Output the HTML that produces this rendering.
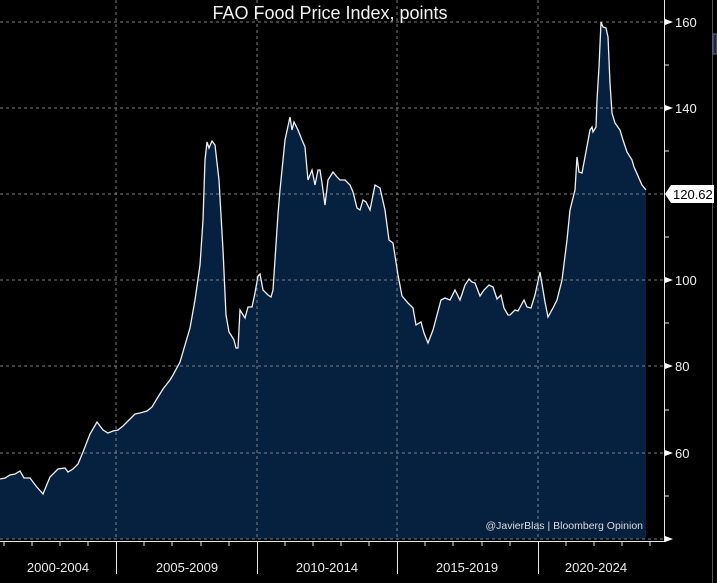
<!DOCTYPE html>
<html><head><meta charset="utf-8"><style>
html,body{margin:0;padding:0;background:#000;}
svg{display:block;font-family:"Liberation Sans",sans-serif;}
</style></head><body>
<svg width="717" height="583" viewBox="0 0 717 583">
<rect width="717" height="583" fill="#000"/>
<path d="M0,479 L5,478 L10,475 L15,474 L20,471 L24,478 L30,478 L36,486 L43,494 L50,477 L58,469 L65,468 L68,472 L73,469 L78,464 L83,452 L90,434 L97,422 L103,430 L108,433 L113,431 L118,430 L123,426 L128,421 L135,414 L140,413 L147,411 L152,407 L158,397 L163,389 L170,380 L173,375 L180,362 L185,345 L190,328 L195,300 L200,265 L203,220 L205,160 L207,142 L209,148 L212,141 L215,145 L219,180 L223,250 L226,315 L229,332 L231,335 L234,340 L236,348 L238,348 L240,310 L245,318 L248,307 L252,307 L255,293 L258,276 L260,274 L263,290 L268,295 L271,297 L273,290 L278,214 L280,190 L285,140 L290,117 L292,130 L294,122 L298,130 L302,140 L305,147 L308,180 L312,170 L315,185 L318,170 L320,170 L322,183 L325,205 L328,180 L333,172 L337,177 L340,180 L345,180 L350,185 L353,192 L357,208 L360,210 L363,200 L366,202 L370,210 L375,185 L380,188 L385,210 L389,240 L393,243 L398,275 L402,296 L408,303 L413,308 L416,325 L421,322 L424,333 L428,343 L433,330 L437,315 L441,300 L445,298 L450,300 L455,290 L460,300 L465,285 L469,279 L472,282 L475,283 L480,296 L484,290 L489,285 L493,287 L497,299 L501,295 L504,308 L508,315 L510,315 L515,310 L518,311 L524,300 L527,307 L531,308 L535,295 L540,272 L545,302 L548,317 L553,308 L557,300 L562,280 L567,240 L570,210 L575,190 L577,157 L579,172 L582,173 L585,157 L590,130 L592,127 L593,132 L596,127 L597,100 L599,67 L601,22 L603,27 L606,28 L608,37 L610,83 L612,113 L615,123 L620,130 L623,140 L627,152 L632,160 L634,167 L638,176 L642,185 L646,190 L646,539 L0,539 Z" fill="#06203f"/>
<g stroke="#9a9a9a" stroke-width="1" stroke-dasharray="3,3" opacity="0.8">
<line x1="0" y1="22" x2="664" y2="22"/><line x1="0" y1="108" x2="664" y2="108"/><line x1="0" y1="194" x2="664" y2="194"/><line x1="0" y1="280" x2="664" y2="280"/><line x1="0" y1="366" x2="664" y2="366"/><line x1="0" y1="453" x2="664" y2="453"/><line x1="0" y1="539" x2="664" y2="539"/>
<line x1="116" y1="0" x2="116" y2="539"/><line x1="257" y1="0" x2="257" y2="539"/><line x1="397" y1="0" x2="397" y2="539"/><line x1="538" y1="0" x2="538" y2="539"/>
</g>
<path d="M0,479 L5,478 L10,475 L15,474 L20,471 L24,478 L30,478 L36,486 L43,494 L50,477 L58,469 L65,468 L68,472 L73,469 L78,464 L83,452 L90,434 L97,422 L103,430 L108,433 L113,431 L118,430 L123,426 L128,421 L135,414 L140,413 L147,411 L152,407 L158,397 L163,389 L170,380 L173,375 L180,362 L185,345 L190,328 L195,300 L200,265 L203,220 L205,160 L207,142 L209,148 L212,141 L215,145 L219,180 L223,250 L226,315 L229,332 L231,335 L234,340 L236,348 L238,348 L240,310 L245,318 L248,307 L252,307 L255,293 L258,276 L260,274 L263,290 L268,295 L271,297 L273,290 L278,214 L280,190 L285,140 L290,117 L292,130 L294,122 L298,130 L302,140 L305,147 L308,180 L312,170 L315,185 L318,170 L320,170 L322,183 L325,205 L328,180 L333,172 L337,177 L340,180 L345,180 L350,185 L353,192 L357,208 L360,210 L363,200 L366,202 L370,210 L375,185 L380,188 L385,210 L389,240 L393,243 L398,275 L402,296 L408,303 L413,308 L416,325 L421,322 L424,333 L428,343 L433,330 L437,315 L441,300 L445,298 L450,300 L455,290 L460,300 L465,285 L469,279 L472,282 L475,283 L480,296 L484,290 L489,285 L493,287 L497,299 L501,295 L504,308 L508,315 L510,315 L515,310 L518,311 L524,300 L527,307 L531,308 L535,295 L540,272 L545,302 L548,317 L553,308 L557,300 L562,280 L567,240 L570,210 L575,190 L577,157 L579,172 L582,173 L585,157 L590,130 L592,127 L593,132 L596,127 L597,100 L599,67 L601,22 L603,27 L606,28 L608,37 L610,83 L612,113 L615,123 L620,130 L623,140 L627,152 L632,160 L634,167 L638,176 L642,185 L646,190" fill="none" stroke="#f0f0f0" stroke-width="1.3"/>
<!-- axes -->
<g stroke="#e8e8e8" stroke-width="1">
<line x1="664.5" y1="0" x2="664.5" y2="542"/>
<line x1="0" y1="541.5" x2="664" y2="541.5"/>
<line x1="116.5" y1="541" x2="116.5" y2="574"/><line x1="257.5" y1="541" x2="257.5" y2="574"/><line x1="397.5" y1="541" x2="397.5" y2="574"/><line x1="538.5" y1="541" x2="538.5" y2="574"/>
<line x1="4" y1="541" x2="4" y2="546"/><line x1="32" y1="541" x2="32" y2="546"/><line x1="60" y1="541" x2="60" y2="546"/><line x1="88" y1="541" x2="88" y2="546"/>
<line x1="144" y1="541" x2="144" y2="546"/><line x1="172" y1="541" x2="172" y2="546"/><line x1="201" y1="541" x2="201" y2="546"/><line x1="229" y1="541" x2="229" y2="546"/>
<line x1="285" y1="541" x2="285" y2="546"/><line x1="313" y1="541" x2="313" y2="546"/><line x1="341" y1="541" x2="341" y2="546"/><line x1="369" y1="541" x2="369" y2="546"/>
<line x1="425" y1="541" x2="425" y2="546"/><line x1="453" y1="541" x2="453" y2="546"/><line x1="482" y1="541" x2="482" y2="546"/><line x1="510" y1="541" x2="510" y2="546"/>
<line x1="566" y1="541" x2="566" y2="546"/><line x1="594" y1="541" x2="594" y2="546"/><line x1="622" y1="541" x2="622" y2="546"/><line x1="650" y1="541" x2="650" y2="546"/>
<line x1="664" y1="65" x2="669" y2="65"/><line x1="664" y1="151" x2="669" y2="151"/><line x1="664" y1="237" x2="669" y2="237"/><line x1="664" y1="323" x2="669" y2="323"/><line x1="664" y1="410" x2="669" y2="410"/><line x1="664" y1="496" x2="669" y2="496"/>
<line x1="712.5" y1="0" x2="712.5" y2="583" stroke="#555"/>
</g>
<g fill="#fff">
<polygon points="665,19 673,22 665,25"/><polygon points="665,105 673,108 665,111"/><polygon points="665,277 673,280 665,283"/><polygon points="665,363 673,366 665,369"/><polygon points="665,450 673,453 665,456"/><polygon points="665,536 673,539 665,542"/>
</g>
<g fill="#f0f0f0" font-size="13">
<text x="675" y="27">160</text><text x="675" y="113">140</text><text x="675" y="285">100</text><text x="675" y="371">80</text><text x="675" y="458">60</text>
</g>
<polygon points="665,194 671,185 714,185 714,203 671,203" fill="#fff"/>
<text x="673" y="199" font-size="13" fill="#000">120.62</text>
<rect x="713" y="34" width="4" height="20" fill="#1a2a44" stroke="#667" stroke-width="1"/>
<g fill="#eaeaea" font-size="13" text-anchor="middle">
<text x="58" y="572">2000-2004</text><text x="187" y="572">2005-2009</text><text x="327" y="572">2010-2014</text><text x="467" y="572">2015-2019</text><text x="596" y="572">2020-2024</text>
</g>
<text x="643" y="529" font-size="10.5" fill="#ddd" text-anchor="end">@JavierBlas | Bloomberg Opinion</text>
<text x="330" y="19" font-size="18" fill="#f2f2f2" text-anchor="middle">FAO Food Price Index, points</text>
</svg>
</body></html>
